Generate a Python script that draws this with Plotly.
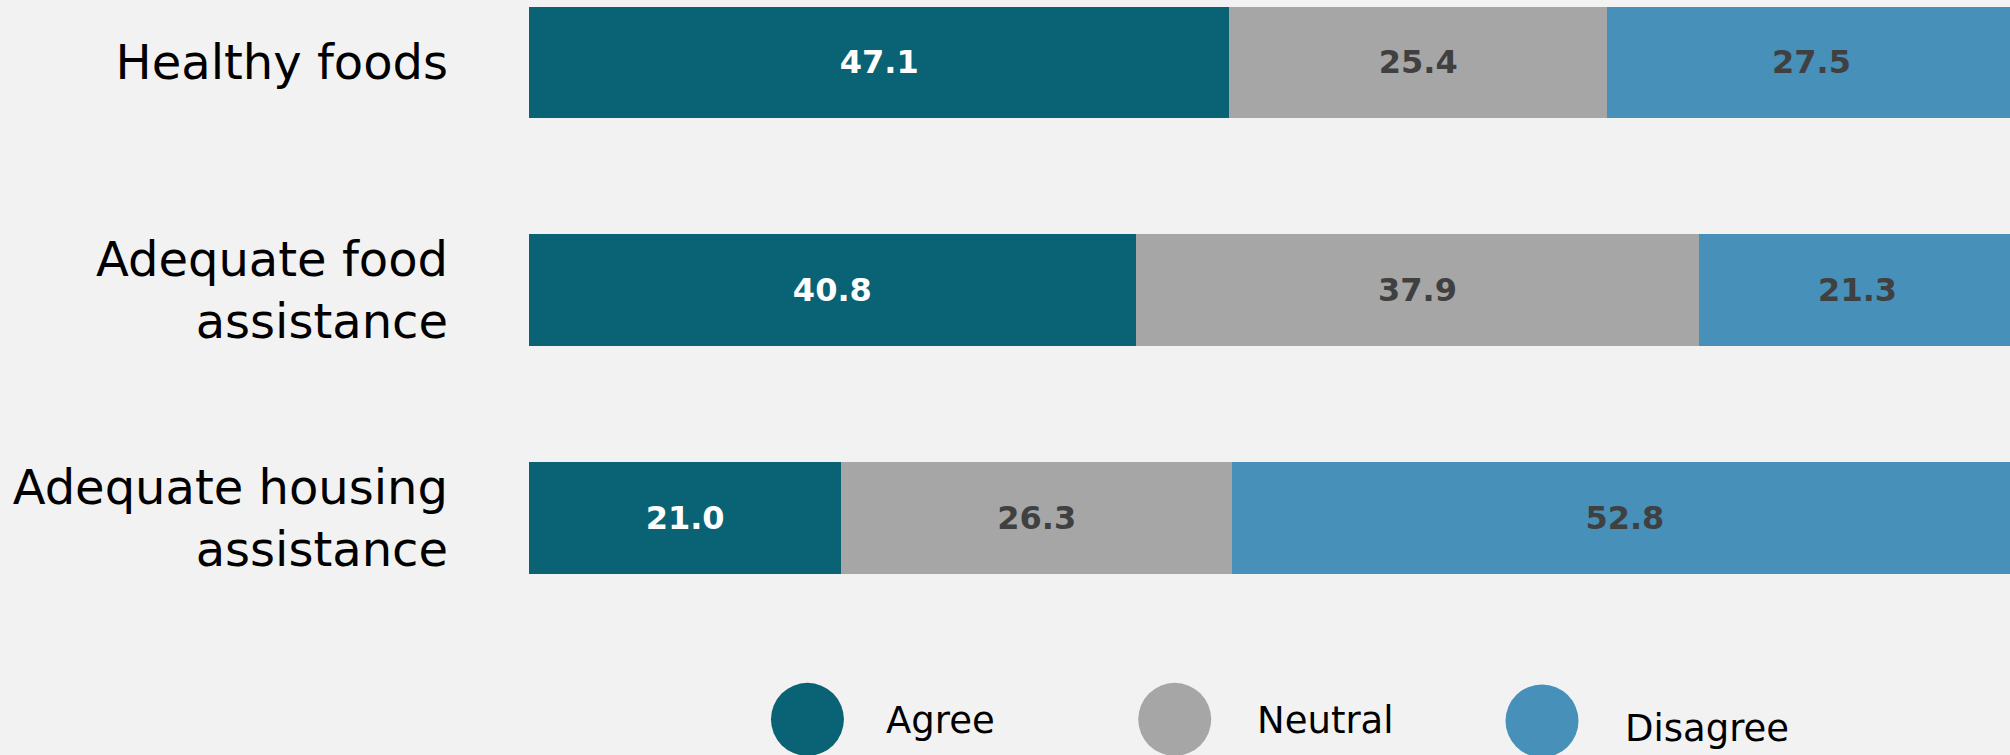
import plotly.graph_objects as go

categories = ["Healthy foods", "Adequate food<br>assistance", "Adequate housing<br>assistance"]
series_names = ["Agree", "Neutral", "Disagree"]
agree = [47.1, 40.8, 21.0]
neutral = [25.4, 37.9, 26.3]
disagree = [27.5, 21.3, 52.8]

colors = ["#0a6374", "#a6a6a6", "#4690ba"]
text_colors = ["#ffffff", "#404040", "#404040"]
FONT = "DejaVu Sans, Verdana, sans-serif"

fig = go.Figure()
for name, vals, c, tc in zip(series_names, [agree, neutral, disagree], colors, text_colors):
    fig.add_trace(go.Bar(
        y=categories, x=vals, orientation="h", name=name,
        marker=dict(color=c, line=dict(width=0)),
        texttemplate="%{x:.1f}", textposition="inside", insidetextanchor="middle",
        textfont=dict(family=FONT, size=32, color=tc, weight="bold"),
        constraintext="none", showlegend=False, hoverinfo="skip",
    ))

# legend drawn on a secondary axis pair
legend_x = [18.8, 43.6, 68.4]
legend_y = [0.23, 0.23, 0.22]
label_x = [24.0, 49.0, 73.9]
label_y = [0.22, 0.22, 0.17]
for i, name in enumerate(series_names):
    fig.add_trace(go.Scatter(
        x=[legend_x[i]], y=[legend_y[i]], xaxis="x2", yaxis="y2", mode="markers",
        marker=dict(size=73, color=colors[i]), showlegend=False, hoverinfo="skip",
        cliponaxis=False,
    ))
    fig.add_annotation(x=label_x[i], y=label_y[i], xref="x2", yref="y2", text=name,
                       showarrow=False, xanchor="left", yanchor="middle",
                       font=dict(family=FONT, size=37, color="#000000"))

split = 155 / 755
fig.update_layout(
    width=2010, height=755,
    barmode="stack", bargap=0.51,
    paper_bgcolor="#f2f2f2", plot_bgcolor="#f2f2f2",
    margin=dict(l=529, r=0, t=0, b=0),
    xaxis=dict(range=[0, 99.6], visible=False, domain=[0, 1]),
    yaxis=dict(domain=[split, 1], range=[2.36, -0.274], showgrid=False, zeroline=False,
               showline=False, ticks="", ticklabelstandoff=80,
               tickfont=dict(family=FONT, size=48, color="#000000")),
    xaxis2=dict(range=[0, 100], visible=False, domain=[0, 1], anchor="y2"),
    yaxis2=dict(range=[0, 1], visible=False, domain=[0, split], anchor="x2"),
)

fig.write_html("out.html", config={"displayModeBar": False},
               post_script="document.body.style.margin='0';document.body.style.background='#f2f2f2';")
